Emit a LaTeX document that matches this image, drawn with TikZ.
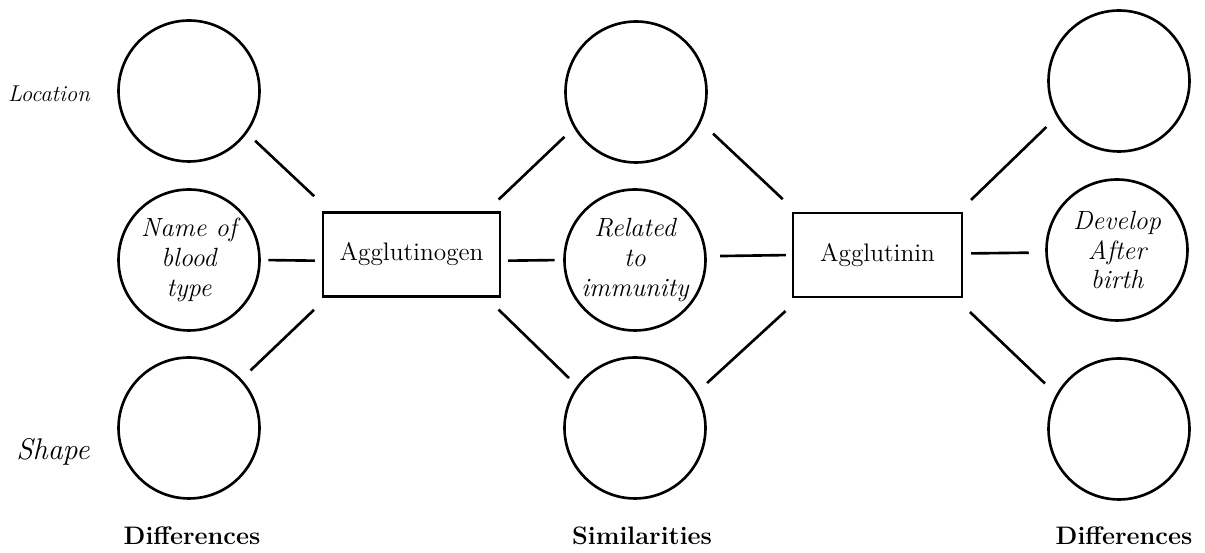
\documentclass[tikz,border=0pt]{standalone}
\usepackage{tikz}
\tikzset{
  idea/.style={circle, draw, line width=1.5pt, minimum size=2.82cm, inner sep=0pt, align=center, font=\fontsize{15}{17}\selectfont\itshape},
  term/.style={rectangle, draw, line width=1.4pt, minimum height=1.68cm, inner sep=0pt, font=\fontsize{14.4}{17}\selectfont},
  link/.style={line width=1.5pt},
  foot/.style={anchor=base, font=\Large\bfseries}
}
\newcommand{\ideanode}[3] {\node at (#1) (#2) [idea] {#3};}
\newcommand{\termnode}[4] {\node at (#1) (#2) [term, minimum width=#3] {#4};}
\newcommand{\ideaedge}[4] {\draw [link, shorten <=#3, shorten >=#4] (#1) -- (#2);}

\begin{document}
\begin{tikzpicture}[x=0.02cm, y=-0.02cm]
\useasboundingbox (0,0) rectangle (1205,553);

\ideanode {189,91} {L1} {};
\ideanode {189,260} {L2} {Name of\\blood\\type};
\ideanode {189,428} {L3} {};
\ideanode {636,92} {M1} {};
\ideanode {635,260} {M2} {Related\\to\\immunity};
\ideanode {635,428} {M3} {};
\ideanode {1119,81} {R1} {};
\ideanode {1117,250} {R2} {Develop\\After\\birth};
\ideanode {1119,429} {R3} {};

\termnode {411.5,254.5} {G1} {3.54cm} {Agglutinogen};
\termnode {877.5,255} {G2} {3.38cm} {Agglutinin};

\ideaedge {L1.-36}{G1.152}{0.22cm}{0.44cm};
\ideaedge {L2.0}{G1.184}{0.15cm}{0.14cm};
\ideaedge {L3.43}{G1.207}{0.25cm}{0.35cm};
\ideaedge {G1.30}{M1.210}{0.34cm}{0.26cm};
\ideaedge {G1.-4}{M2.180}{0.14cm}{0.17cm};
\ideaedge {G1.-30}{M3.144}{0.34cm}{0.22cm};
\ideaedge {M1.-25}{G2.152}{0.33cm}{0.37cm};
\ideaedge {M2.3}{G2.180}{0.27cm}{0.12cm};
\ideaedge {M3.30}{G2.209}{0.27cm}{0.38cm};
\ideaedge {G2.28}{R1.210}{0.34cm}{0.29cm};
\ideaedge {G2.1}{R2.182}{0.16cm}{0.33cm};
\ideaedge {G2.-29}{R3.151}{0.40cm}{0.31cm};

% handwritten side notes
\node at (49,94) (location) [font=\fontsize{13}{15}\selectfont\itshape] {Location};
\node at (53,452) (shape) [font=\fontsize{17}{19}\selectfont\itshape] {Shape};

\node at (192,545) (diffleft) [foot] {Differences};
\node at (642,545) (simil) [foot] {Similarities};
\node at (1124,545) (diffright) [foot] {Differences};
\end{tikzpicture}
\end{document}
